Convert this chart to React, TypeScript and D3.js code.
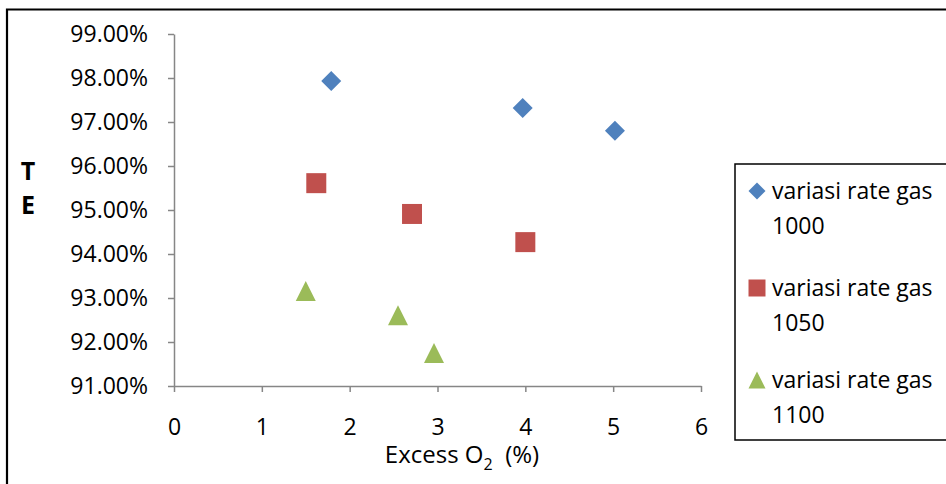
import React, { useEffect, useRef } from 'react';
import * as d3 from 'd3';

// Excess O2 (%) vs TE, three gas rate variations
const seriesNames = ['variasi rate gas 1000', 'variasi rate gas 1050', 'variasi rate gas 1100'];
const seriesLines = [['variasi rate gas', '1000'], ['variasi rate gas', '1050'], ['variasi rate gas', '1100']];
const seriesColors = ['#4F81BD', '#C0504D', '#9BBB59'];
const seriesShapes = ['diamond', 'square', 'triangle'];

const x1000 = [1.79, 3.97, 5.02];
const y1000 = [97.93, 97.32, 96.8];
const x1050 = [1.62, 2.71, 4.0];
const y1050 = [95.61, 94.91, 94.27];
const x1100 = [1.5, 2.55, 2.96];
const y1100 = [93.16, 92.61, 91.75];

const xTicks = [0, 1, 2, 3, 4, 5, 6];
const yTicks = [91, 92, 93, 94, 95, 96, 97, 98, 99];

const FONT = '"Open Sans", sans-serif';

function markerPath(shape: string, s: number): string {
  const p = d3.path();
  const h = s / 2;
  if (shape === 'diamond') {
    p.moveTo(0, -h); p.lineTo(h, 0); p.lineTo(0, h); p.lineTo(-h, 0); p.closePath();
  } else if (shape === 'square') {
    p.rect(-h, -h, s, s);
  } else {
    p.moveTo(0, -h); p.lineTo(h, h); p.lineTo(-h, h); p.closePath();
  }
  return p.toString();
}

export default function App() {
  const ref = useRef<SVGSVGElement | null>(null);

  useEffect(() => {
    const width = 946, height = 484;
    const svg = d3.select(ref.current);
    svg.selectAll('*').remove();

    svg.append('rect').attr('width', width).attr('height', height).attr('fill', '#fff');

    // outer chart border (left + top visible)
    svg.append('path')
      .attr('d', `M7,${height} V9.5 H${width}`)
      .attr('fill', 'none').attr('stroke', '#000').attr('stroke-width', 2.2);

    const x = d3.scaleLinear().domain([0, 6]).range([174, 701]);
    const y = d3.scaleLinear().domain([91, 99]).range([386, 34]);

    const gx = svg.append('g')
      .attr('transform', `translate(0,${y(91)})`)
      .call(d3.axisBottom(x).tickValues(xTicks).tickSize(6).tickSizeOuter(0).tickPadding(27).tickFormat(d3.format('d')));
    const gy = svg.append('g')
      .attr('transform', `translate(${x(0)},0)`)
      .call(d3.axisLeft(y).tickValues(yTicks).tickSize(6).tickSizeOuter(0).tickPadding(20).tickFormat(d => d3.format('.2f')(d as number) + '%'));

    [gx, gy].forEach(g => {
      g.select('.domain').attr('stroke', '#868686').attr('stroke-width', 1.5);
      g.selectAll('.tick line').attr('stroke', '#868686').attr('stroke-width', 1.5);
      g.selectAll('.tick text').attr('fill', '#000').style('font-family', FONT).style('font-size', '23px');
    });

    // axis titles
    const xt = svg.append('text')
      .attr('x', 462).attr('y', 463)
      .attr('text-anchor', 'middle')
      .style('font-family', FONT).style('font-size', '24px').attr('fill', '#000');
    xt.append('tspan').text('Excess O');
    xt.append('tspan').attr('dy', 7).style('font-size', '16px').text('2');
    xt.append('tspan').attr('dy', -7).text('\u00a0\u00a0(%)');

    svg.append('text').attr('x', 28).attr('y', 180).attr('text-anchor', 'middle')
      .style('font-family', FONT).style('font-size', '25px').style('font-weight', 'bold').text('T');
    svg.append('text').attr('x', 28).attr('y', 214).attr('text-anchor', 'middle')
      .style('font-family', FONT).style('font-size', '25px').style('font-weight', 'bold').text('E');

    const series = [
      { xs: x1000, ys: y1000 },
      { xs: x1050, ys: y1050 },
      { xs: x1100, ys: y1100 },
    ];

    series.forEach((s, i) => {
      svg.append('g').selectAll('path')
        .data(s.xs.map((v, j) => [v, s.ys[j]]))
        .enter()
        .append('path')
        .attr('transform', d => `translate(${x(d[0])},${y(d[1])})`)
        .attr('d', markerPath(seriesShapes[i], 20))
        .attr('fill', seriesColors[i]);
    });

    // legend
    const lg = svg.append('g').attr('transform', 'translate(735,164)');
    lg.append('rect').attr('width', 240).attr('height', 276)
      .attr('fill', '#fff').attr('stroke', '#000').attr('stroke-width', 1.5);
    const rowY = [27, 124, 216];
    seriesNames.forEach((name, i) => {
      const row = lg.append('g').attr('transform', `translate(0,${rowY[i]})`);
      row.append('path')
        .attr('transform', 'translate(22,0)')
        .attr('d', markerPath(seriesShapes[i], 17))
        .attr('fill', seriesColors[i]);
      const t = row.append('text')
        .style('font-family', FONT).style('font-size', '23px').attr('fill', '#000');
      seriesLines[i].forEach((line, k) => {
        t.append('tspan').attr('x', 37).attr('y', 8 + k * 35).text(line);
      });
    });
  }, []);

  return (
    <svg ref={ref} width={946} height={484}
      style={{ position: 'absolute', left: 0, top: 0, display: 'block' }} />
  );
}
